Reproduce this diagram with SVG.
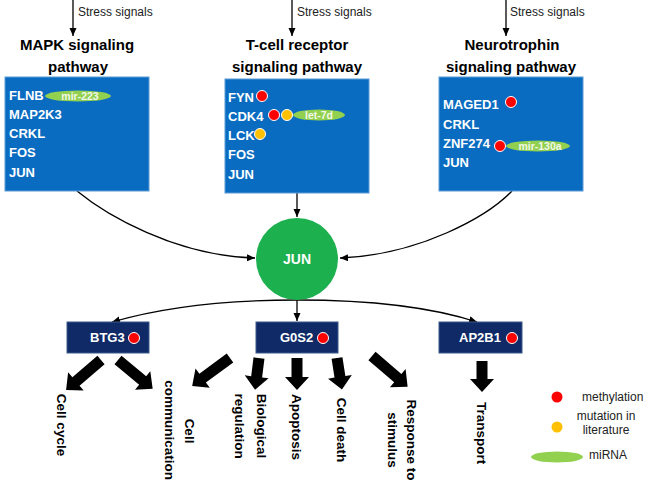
<svg xmlns="http://www.w3.org/2000/svg" width="650" height="491" viewBox="0 0 650 491">
<defs>
<marker id="ah" markerUnits="userSpaceOnUse" markerWidth="9" markerHeight="8" refX="8" refY="3.5" orient="auto">
<path d="M0,0 L8,3.5 L0,7 z" fill="#000"/>
</marker>
<style>
.t{font-family:"Liberation Sans",Arial,sans-serif}
.stress{font-size:12px;fill:#222}
.title{font-size:15px;font-weight:bold;fill:#000;text-anchor:middle}
.gene{font-size:13px;font-weight:bold;fill:#fff}
.pbox{fill:#0A6CC1;stroke:#5B9BD5;stroke-width:1}
.nbox{fill:#0F2A66;stroke:#3A5A8C;stroke-width:1}
.red{fill:#FF0000;stroke:#fff;stroke-width:1}
.org{fill:#FFC000;stroke:#fff;stroke-width:1}
.mir{fill:#92D050}
.mirt{font-size:10.5px;font-weight:bold;fill:#F2F8E8;text-anchor:middle}
.conn{fill:none;stroke:#000;stroke-width:1.3}
.blk{fill:#000}
.lbl{font-size:13.5px;font-weight:bold;fill:#000;text-anchor:middle}
.leg{font-size:12px;fill:#222}
</style>
</defs>
<rect width="650" height="491" fill="#fff"/>

<g id="connectors">
<line class="conn" x1="73" y1="0" x2="73" y2="36" marker-end="url(#ah)"/>
<line class="conn" x1="292" y1="0" x2="292" y2="36" marker-end="url(#ah)"/>
<line class="conn" x1="506" y1="0" x2="506" y2="36" marker-end="url(#ah)"/>
<path class="conn" d="M77,191 C105,214 175,256 255,258" marker-end="url(#ah)"/>
<path class="conn" d="M297,193 L297,217" marker-end="url(#ah)"/>
<path class="conn" d="M512,191 C488,216 420,255 340,258" marker-end="url(#ah)"/>
<path class="conn" d="M297,300 C220,300 160,308 112,322" marker-end="url(#ah)"/>
<path class="conn" d="M297,300 L297,321" marker-end="url(#ah)"/>
<path class="conn" d="M297,300 C374,300 434,308 477,322" marker-end="url(#ah)"/>
</g>

<g id="stress-labels" class="t">
<text class="stress" x="78" y="16">Stress signals</text>
<text class="stress" x="297" y="16">Stress signals</text>
<text class="stress" x="510" y="16">Stress signals</text>
</g>

<g id="mapk" class="t">
<text class="title" x="77" y="50">MAPK signaling</text>
<text class="title" x="78" y="72">pathway</text>
<rect class="pbox" x="5" y="77" width="144" height="114"/>
<text class="gene" x="9" y="100">FLNB</text>
<ellipse class="mir" cx="78" cy="96" rx="33" ry="5.5"/>
<text class="mirt" x="80" y="100">mir-223</text>
<text class="gene" x="9" y="119">MAP2K3</text>
<text class="gene" x="9" y="138">CRKL</text>
<text class="gene" x="9" y="157">FOS</text>
<text class="gene" x="9" y="177">JUN</text>
</g>

<g id="tcr" class="t">
<text class="title" x="297" y="50">T-cell receptor</text>
<text class="title" x="297" y="72">signaling pathway</text>
<rect class="pbox" x="225" y="79" width="144" height="114"/>
<text class="gene" x="228" y="102">FYN</text>
<circle class="red" cx="262" cy="96" r="5.5"/>
<text class="gene" x="228" y="121">CDK4</text>
<circle class="red" cx="274" cy="115" r="5.5"/>
<circle class="org" cx="287" cy="115" r="5.5"/>
<ellipse class="mir" cx="319" cy="115" rx="26" ry="5.5"/>
<text class="mirt" x="319" y="119">let-7d</text>
<text class="gene" x="228" y="140">LCK</text>
<circle class="org" cx="260" cy="134" r="5.5"/>
<text class="gene" x="228" y="159">FOS</text>
<text class="gene" x="228" y="179">JUN</text>
</g>

<g id="neurotrophin" class="t">
<text class="title" x="512" y="50">Neurotrophin</text>
<text class="title" x="511" y="72">signaling pathway</text>
<rect class="pbox" x="439" y="77" width="144" height="114"/>
<text class="gene" x="443" y="109">MAGED1</text>
<circle class="red" cx="511" cy="102" r="5.5"/>
<text class="gene" x="443" y="129">CRKL</text>
<text class="gene" x="443" y="148">ZNF274</text>
<ellipse class="mir" cx="538" cy="146" rx="32" ry="5.5"/>
<text class="mirt" x="540" y="150">mir-130a</text>
<circle class="red" cx="500" cy="146" r="5.5"/>
<text class="gene" x="443" y="167">JUN</text>
</g>

<g id="jun" class="t">
<circle cx="297" cy="259" r="41" fill="#1DB04E"/>
<text x="297" y="264" font-size="14" font-weight="bold" fill="#fff" text-anchor="middle">JUN</text>
</g>

<g id="btg3" class="t">
<rect class="nbox" x="67" y="322" width="82" height="31"/>
<text class="gene" x="90" y="342">BTG3</text>
<circle class="red" cx="134" cy="338" r="5.5"/>
</g>
<g id="g0s2" class="t">
<rect class="nbox" x="256" y="322" width="82" height="31"/>
<text class="gene" x="280" y="342">G0S2</text>
<circle class="red" cx="323" cy="338" r="5.5"/>
</g>
<g id="ap2b1" class="t">
<rect class="nbox" x="439" y="322" width="83" height="31"/>
<text class="gene" x="459" y="342">AP2B1</text>
<circle class="red" cx="512" cy="338" r="5.5"/>
</g>

<g id="block-arrows">
<path class="blk" transform="translate(101,360) rotate(139.4)" d="M0,-5.5 H33 V-12 L46,0 L33,12 V5.5 H0 Z"/>
<path class="blk" transform="translate(118,360) rotate(39.6)" d="M0,-5.5 H32 V-12 L45,0 L32,12 V5.5 H0 Z"/>
<path class="blk" transform="translate(230,358) rotate(143.6)" d="M0,-5.5 H34 V-12 L47,0 L34,12 V5.5 H0 Z"/>
<path class="blk" transform="translate(259,358) rotate(97.1)" d="M0,-5.5 H19 V-12 L32,0 L19,12 V5.5 H0 Z"/>
<path class="blk" transform="translate(297,358) rotate(90)" d="M0,-5.5 H19 V-12 L32,0 L19,12 V5.5 H0 Z"/>
<path class="blk" transform="translate(337,358) rotate(81.1)" d="M0,-5.5 H19 V-12 L32,0 L19,12 V5.5 H0 Z"/>
<path class="blk" transform="translate(372,356) rotate(40.7)" d="M0,-5.5 H34 V-12 L47,0 L34,12 V5.5 H0 Z"/>
<path class="blk" transform="translate(482,361) rotate(90)" d="M0,-5.5 H18 V-12 L31,0 L18,12 V5.5 H0 Z"/>
</g>

<g id="process-labels" class="t">
<text class="lbl" transform="translate(57,425) rotate(90)">Cell cycle</text>
<text class="lbl" transform="translate(185,431) rotate(90)">Cell</text>
<text class="lbl" transform="translate(165,430) rotate(90)">communication</text>
<text class="lbl" transform="translate(257,426) rotate(90)">Biological</text>
<text class="lbl" transform="translate(235,426) rotate(90)">regulation</text>
<text class="lbl" transform="translate(292,427) rotate(90)">Apoptosis</text>
<text class="lbl" transform="translate(337,430) rotate(90)">Cell death</text>
<text class="lbl" transform="translate(407,440) rotate(90)">Response to</text>
<text class="lbl" transform="translate(388,440) rotate(90)">stimulus</text>
<text class="lbl" transform="translate(477,433) rotate(90)">Transport</text>
</g>

<g id="legend" class="t">
<circle cx="557" cy="397" r="5.5" fill="#FF0000"/>
<text class="leg" x="582" y="401">methylation</text>
<circle cx="557" cy="427" r="5.5" fill="#FFC000"/>
<text class="leg" x="606" y="420" text-anchor="middle">mutation in</text>
<text class="leg" x="606" y="434" text-anchor="middle">literature</text>
<ellipse cx="557" cy="457" rx="26" ry="5.5" fill="#92D050"/>
<text class="leg" x="589" y="459">miRNA</text>
</g>
</svg>
